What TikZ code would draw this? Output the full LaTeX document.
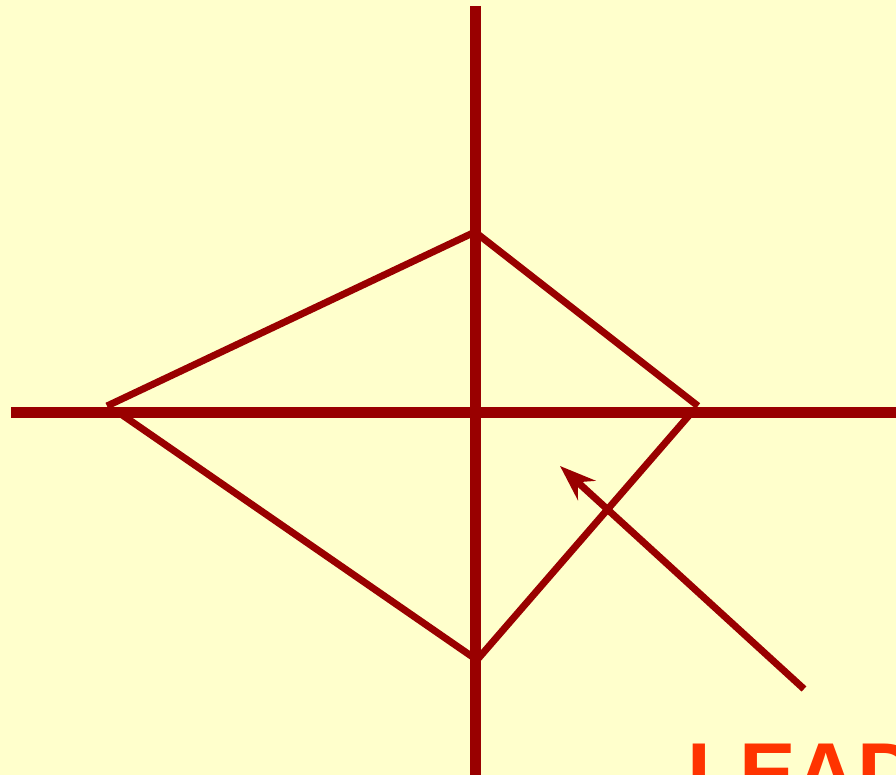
\documentclass[tikz,border=0pt]{standalone}
\usepackage{fontspec}
\setmainfont{Liberation Sans}
\usetikzlibrary{arrows.meta}
\definecolor{bgyellow}{HTML}{FFFFCC}
\definecolor{darkred}{HTML}{990000}
\definecolor{labelred}{HTML}{FF3300}
\tikzset{
  axis/.style={draw=darkred, line width=11pt},
  edge/.style={draw=darkred, line width=7pt},
  pointer/.style={draw=darkred, line width=7pt, -{Stealth[length=36pt,width=26pt,inset=12pt]}},
  biglabel/.style={text=labelred, font=\fontsize{85}{85}\selectfont\bfseries, inner sep=0pt, anchor=base west}
}
\begin{document}
\begin{tikzpicture}[x=1pt,y=1pt]
\fill[bgyellow] (0,0) rectangle (896,775);
\clip (0,0) rectangle (896,775);
% axes
\coordinate (vtop) at (475,769);
\coordinate (vbot) at (475,0);
\coordinate (hleft) at (11,362);
\coordinate (hright) at (896,362);
\draw[axis] (vtop) -- (vbot);
\draw[axis] (hleft) -- (hright);
% diamond
\coordinate (T) at (475,543);
\coordinate (L1) at (107,369);
\coordinate (L2) at (115,365);
\coordinate (R1) at (698,369);
\coordinate (R2) at (692,363);
\coordinate (B) at (477,115);
\draw[edge] (T) -- (L1);
\draw[edge] (L2) -- (B);
\draw[edge] (T) -- (R1);
\draw[edge] (R2) -- (B);
% arrow
\coordinate (atail) at (804,86);
\coordinate (ahead) at (560,309);
\draw[pointer] (atail) -- (ahead);
% label
\node[biglabel] (lbl) at (687,-28) {LEAD};
\end{tikzpicture}
\end{document}
